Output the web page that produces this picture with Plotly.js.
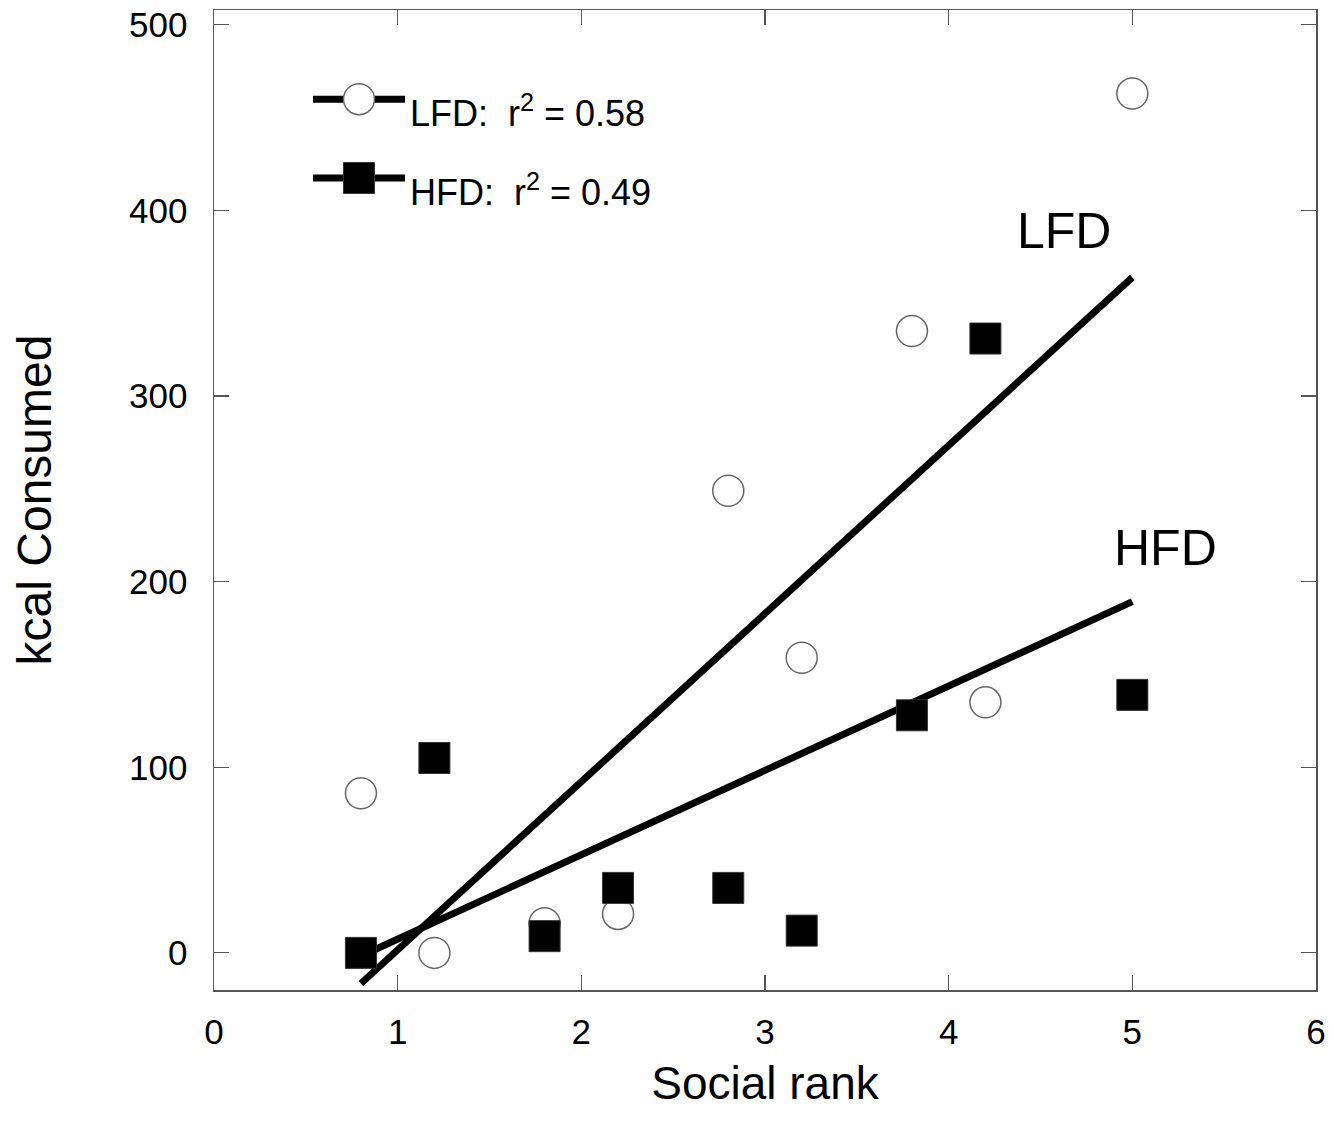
<!DOCTYPE html>
<html>
<head>
<meta charset="utf-8">
<script src="https://cdn.plot.ly/plotly-3.0.1.min.js"></script>
<style>html,body{margin:0;padding:0;background:#fff;}</style>
</head>
<body>
<div id="chart" style="width:1342px;height:1133px;"></div>
<script>
// ---- data ----
const socialRank = [0.8, 1.2, 1.8, 2.2, 2.8, 3.2, 3.8, 4.2, 5.0];
const lfdKcal    = [86, 0, 16, 21, 249, 159, 335, 135, 463];
const hfdKcal    = [0, 105, 9, 35, 35, 12, 128, 331, 139];
const seriesNames = ['LFD', 'HFD'];
const rSquared    = ['0.58', '0.49'];
const xTickVals = [0, 1, 2, 3, 4, 5, 6];
const yTickVals = [0, 100, 200, 300, 400, 500];

// least-squares fit line from the data
function fit(xs, ys) {
  const n = xs.length;
  const mx = xs.reduce((a, b) => a + b, 0) / n;
  const my = ys.reduce((a, b) => a + b, 0) / n;
  let sxy = 0, sxx = 0;
  for (let i = 0; i < n; i++) { sxy += (xs[i] - mx) * (ys[i] - my); sxx += (xs[i] - mx) ** 2; }
  const b = sxy / sxx, a = my - b * mx;
  const x0 = Math.min(...xs), x1 = Math.max(...xs);
  return { x: [x0, x1], y: [a + b * x0, a + b * x1] };
}
const lfdFit = fit(socialRank, lfdKcal);
const hfdFit = fit(socialRank, hfdKcal);

const FONT = 'Liberation Sans, Arial, Helvetica, sans-serif';
const AX = '#555555';
const circleMarker = { symbol: 'circle', size: 31, color: '#ffffff', line: { color: '#666666', width: 1.5 } };
const squareMarker = { symbol: 'square', size: 31, color: '#000000', line: { color: '#333333', width: 1 } };

// legend key geometry (paper fraction, on hidden overlay axes)
const keyX = [0.0898, 0.1733], keyMid = 0.1316, keyTextX = 0.176;
const keyY = [0.909, 0.8286];

const traces = [
  { x: lfdFit.x, y: lfdFit.y, mode: 'lines', line: { color: '#000', width: 7 }, showlegend: false, hoverinfo: 'skip' },
  { x: hfdFit.x, y: hfdFit.y, mode: 'lines', line: { color: '#000', width: 7 }, showlegend: false, hoverinfo: 'skip' },
  { x: socialRank, y: lfdKcal, mode: 'markers', name: seriesNames[0], marker: circleMarker, showlegend: false },
  { x: socialRank, y: hfdKcal, mode: 'markers', name: seriesNames[1], marker: squareMarker, showlegend: false },
  // legend keys
  { x: keyX, y: [keyY[0], keyY[0]], xaxis: 'x2', yaxis: 'y2', mode: 'lines', line: { color: '#000', width: 7 }, showlegend: false, hoverinfo: 'skip' },
  { x: [keyMid], y: [keyY[0]], xaxis: 'x2', yaxis: 'y2', mode: 'markers', marker: circleMarker, showlegend: false, hoverinfo: 'skip' },
  { x: keyX, y: [keyY[1], keyY[1]], xaxis: 'x2', yaxis: 'y2', mode: 'lines', line: { color: '#000', width: 7 }, showlegend: false, hoverinfo: 'skip' },
  { x: [keyMid], y: [keyY[1]], xaxis: 'x2', yaxis: 'y2', mode: 'markers', marker: squareMarker, showlegend: false, hoverinfo: 'skip' }
];

const axisCommon = {
  showline: true, linecolor: AX, linewidth: 1.5, mirror: 'ticks',
  ticks: 'inside', ticklen: 15, tickwidth: 1.2, tickcolor: AX,
  showgrid: false, zeroline: false,
  tickfont: { family: FONT, size: 35, color: '#000' }
};

const layout = {
  width: 1342, height: 1133,
  margin: { l: 214, r: 26, t: 10, b: 143 },
  paper_bgcolor: '#fff', plot_bgcolor: '#fff',
  showlegend: false,
  xaxis: Object.assign({}, axisCommon, {
    range: [0, 6], tickvals: xTickVals, ticklabelstandoff: 10,
    title: { text: 'Social rank', font: { family: FONT, size: 46, color: '#000' }, standoff: 17 }
  }),
  yaxis: Object.assign({}, axisCommon, {
    range: [-20, 508], tickvals: yTickVals, ticklabelstandoff: 18,
    title: { text: 'kcal Consumed', font: { family: FONT, size: 48, color: '#000' }, standoff: 62 }
  }),
  xaxis2: { overlaying: 'x', anchor: 'y2', range: [0, 1], visible: false, fixedrange: true },
  yaxis2: { overlaying: 'y', anchor: 'x2', range: [0, 1], visible: false, fixedrange: true },
  annotations: [
    { xref: 'paper', yref: 'paper', x: keyTextX, y: keyY[0] - 0.012, xanchor: 'left', yanchor: 'middle', showarrow: false,
      text: seriesNames[0] + ':&nbsp;&nbsp;r<sup>2</sup>&nbsp;= ' + rSquared[0], font: { family: FONT, size: 36, color: '#000' } },
    { xref: 'paper', yref: 'paper', x: keyTextX, y: keyY[1] - 0.012, xanchor: 'left', yanchor: 'middle', showarrow: false,
      text: seriesNames[1] + ':&nbsp;&nbsp;r<sup>2</sup>&nbsp;= ' + rSquared[1], font: { family: FONT, size: 36, color: '#000' } },
    { xref: 'x', yref: 'y', x: 4.63, y: 389, showarrow: false, text: seriesNames[0], font: { family: FONT, size: 50, color: '#000' } },
    { xref: 'x', yref: 'y', x: 5.18, y: 218, showarrow: false, text: seriesNames[1], font: { family: FONT, size: 50, color: '#000' } }
  ]
};

Plotly.newPlot('chart', traces, layout, { displayModeBar: false, staticPlot: true });
</script>
</body>
</html>
